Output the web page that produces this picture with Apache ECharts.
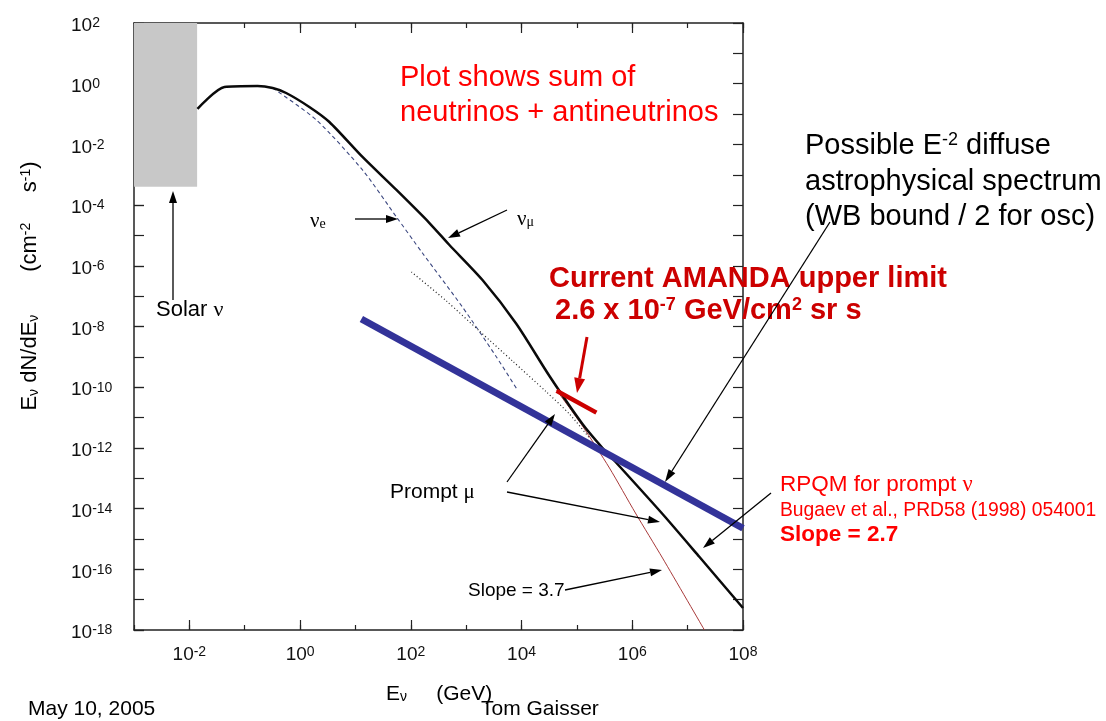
<!DOCTYPE html>
<html>
<head>
<meta charset="utf-8">
<script src="https://cdn.jsdelivr.net/npm/echarts@6/dist/echarts.min.js"></script>
<style>
  html, body { margin: 0; padding: 0; background: #fff; }
  #chart { width: 1106px; height: 721px; }
</style>
</head>
<body>
<div id="chart"></div>
<script>
// Neutrino energy E (GeV) and flux E dN/dE (cm^-2 s^-1), sum of nu + anti-nu
const numuE    = [0.014, 0.043, 0.17, 0.32, 0.56, 1.47, 3.38, 13.4, 55, 217, 498, 1970, 8090, 31900, 1.26e5, 2.9e5, 5.19e5, 3.52e6, 1.64e7, 1e8];
const numuFlux = [0.147, 0.778, 0.84, 0.72, 0.494, 0.171, 0.0547, 3.85e-3, 3.15e-4, 2.57e-5, 4.84e-6, 3.40e-7, 1.21e-8, 2.34e-10, 6.14e-12, 9.93e-13, 3.18e-13, 6.64e-15, 2.54e-16, 5.3e-18];

const nueE    = [0.32, 1.97, 13.4, 55, 162, 855, 3520, 8430];
const nueFlux = [0.72, 0.0637, 1.44e-3, 4.06e-5, 2.64e-6, 4.39e-8, 9.9e-10, 8.1e-11];

const promptMuE    = [102.6, 440, 1730, 6850, 28200, 73300, 1.69e5];
const promptMuFlux = [6.25e-7, 6.92e-8, 7.11e-9, 7.30e-10, 6.95e-11, 1.31e-11, 2.12e-12];

// Conventional component steepening to slope 3.7
const steepE    = [42700, 1.26e5, 3.87e5, 1.14e6, 3.52e6, 2.01e7];
const steepFlux = [8.1e-11, 5.27e-12, 2.18e-13, 7.16e-15, 2.35e-16, 1e-18];

// E^-2 diffuse astrophysical spectrum (WB bound / 2)
const wbE    = [12.8, 1e8];
const wbFlux = [1.76e-8, 2.25e-15];

// AMANDA upper limit on E^2 dN/dE (GeV cm^-2 sr^-1 s^-1), integrated over 4 pi sr
const amandaLimit = 2.6e-7;
const amandaE = [4.3e4, 2.25e5];
const amandaFlux = amandaE.map(e => amandaLimit * 4 * Math.PI / e);

// Solar neutrino band: energy range and flux range
const solarE    = [1e-3, 0.0138];
const solarFlux = [4e-4, 1e2];

// Tick labels (powers of ten)
const xLabelExp = [-2, 0, 2, 4, 6, 8];
const yLabelExp = [2, 0, -2, -4, -6, -8, -10, -12, -14, -16, -18];

const zip = (a, b) => a.map((v, i) => [v, b[i]]);

const FONT = "'Liberation Sans', Arial, Helvetica, sans-serif";
const SERIF = "'Liberation Serif', 'DejaVu Serif', serif";
const AXIS_COLOR = '#222';

const powRich = {
  b: { fontSize: 19, fontFamily: FONT, color: '#111', lineHeight: 19, verticalAlign: 'bottom' },
  s: { fontSize: 14, fontFamily: FONT, color: '#111', lineHeight: 14, verticalAlign: 'top', padding: [0, 0, 13, 0] }
};
const powLabel = e => '{b|10}{s|' + e + '}';

function logAxis(pos, isX, tickLen) {
  return {
    type: 'log', logBase: 10, position: pos,
    min: isX ? 1e-3 : 1e-18, max: isX ? 1e8 : 1e2, interval: 1,
    axisLine: { show: true, onZero: false, lineStyle: { color: AXIS_COLOR, width: 1.5 } },
    axisTick: { show: true, inside: true, length: tickLen, lineStyle: { color: AXIS_COLOR, width: 1.2 } },
    axisLabel: { show: false },
    splitLine: { show: false }
  };
}

function expAxis(pos, isX, showLabel, values) {
  return {
    type: 'value', position: pos,
    min: isX ? -3 : -18, max: isX ? 8 : 2,
    axisLine: { show: false, onZero: false },
    axisTick: { show: true, inside: true, length: 10, customValues: values, lineStyle: { color: AXIS_COLOR, width: 1.2 } },
    axisLabel: showLabel ? Object.assign({
      customValues: values, formatter: powLabel, rich: powRich
    }, isX ? { margin: 15 } : { margin: 63, align: 'left', padding: [6, 0, 0, 0] }) : { show: false },
    splitLine: { show: false }
  };
}

const xAxes = [
  logAxis('bottom', true, 5),
  logAxis('top', true, 5),
  expAxis('bottom', true, true, xLabelExp),
  expAxis('top', true, false, xLabelExp)
];
const yAxes = [
  logAxis('left', false, 10),
  logAxis('right', false, 10),
  expAxis('left', false, true, yLabelExp)
];

function arrow(x1, y1, x2, y2, color, w, headLen, headW) {
  const a = Math.atan2(y2 - y1, x2 - x1);
  const bx = x2 - headLen * Math.cos(a), by = y2 - headLen * Math.sin(a);
  const nx = -Math.sin(a) * headW / 2, ny = Math.cos(a) * headW / 2;
  return [
    { type: 'line', silent: true, z: 100, shape: { x1: x1, y1: y1, x2: bx, y2: by }, style: { stroke: color, lineWidth: w } },
    { type: 'polygon', silent: true, z: 100, shape: { points: [[x2, y2], [bx + nx, by + ny], [bx - nx, by - ny]] }, style: { fill: color } }
  ];
}

function text(x, y, str, opts) {
  return {
    type: 'text', silent: true, z: 100, x: x, y: y,
    rotation: opts.rotation || 0,
    style: Object.assign({
      text: str, fill: '#000', fontSize: 20, fontFamily: FONT,
      textAlign: 'left', textVerticalAlign: 'middle'
    }, opts.style || {})
  };
}

function supRich(size, color, weight, family) {
  const f = family || FONT;
  return {
    n: { fontSize: size, fontFamily: f, fill: color, fontWeight: weight || 'normal', lineHeight: size, verticalAlign: 'bottom' },
    sup: { fontSize: Math.round(size * 0.62), fontFamily: f, fill: color, fontWeight: weight || 'normal', lineHeight: Math.round(size * 0.62), verticalAlign: 'top', padding: [0, 0, Math.round(size * 0.55), 0] },
    sub: { fontSize: Math.round(size * 0.65), fontFamily: f, fill: color, fontWeight: weight || 'normal', lineHeight: Math.round(size * 0.65), verticalAlign: 'bottom', padding: [Math.round(size * 0.45), 0, 0, 0] },
    g: { fontSize: size, fontFamily: SERIF, fill: color, fontWeight: 'normal', lineHeight: size, verticalAlign: 'bottom' }
  };
}

const graphics = [].concat(
  // Red notes
  text(400, 78, 'Plot shows sum of', { style: { fontSize: 29, fill: '#ff0000' } }),
  text(400, 113, 'neutrinos + antineutrinos', { style: { fontSize: 29, fill: '#ff0000' } }),
  // Astrophysical spectrum note
  text(805, 146, '{n|Possible E}{sup|-2}{n| diffuse}', { style: { rich: supRich(29, '#000') } }),
  text(805, 182, 'astrophysical spectrum', { style: { fontSize: 29 } }),
  text(805, 217, '(WB bound / 2 for osc)', { style: { fontSize: 29 } }),
  // AMANDA limit
  text(549, 279, 'Current AMANDA upper limit', { style: { fontSize: 29, fontWeight: 'bold', fill: '#cc0000' } }),
  text(555, 311, '{n|2.6 x 10}{sup|-7}{n| GeV/cm}{sup|2}{n| sr s}', { style: { rich: supRich(29, '#cc0000', 'bold') } }),
  // RPQM note
  text(780, 485, '{n|RPQM for prompt }{g|ν}', { style: { rich: supRich(22.5, '#ff0000') } }),
  text(780, 511, 'Bugaev et al., PRD58 (1998) 054001', { style: { fontSize: 19.3, fill: '#ff0000' } }),
  text(780, 535, 'Slope = 2.7', { style: { fontSize: 22.5, fontWeight: 'bold', fill: '#ff0000' } }),
  // Curve labels
  text(156, 310, '{n|Solar }{g|ν}', { style: { rich: supRich(22, '#000') } }),
  text(310, 221, '{g|ν}{sub|e}', { style: { rich: supRich(21, '#000', 'normal', SERIF) } }),
  text(517, 219, '{g|ν}{sub|μ}', { style: { rich: supRich(21, '#000', 'normal', SERIF) } }),
  text(390, 492, '{n|Prompt }{g|μ}', { style: { rich: supRich(21, '#000') } }),
  text(468, 591, 'Slope = 3.7', { style: { fontSize: 19 } }),
  // Axis titles and footer
  text(386, 694, '{n|E}{sub|ν}{n|     (GeV)}', { style: { rich: supRich(21, '#000') } }),
  {
    type: 'text', silent: true, z: 100, x: 30, y: 286, rotation: Math.PI / 2,
    style: {
      text: '{n|E}{sub|ν}{n| dN/dE}{sub|ν}{n|       (cm}{sup|-2}{n|     s}{sup|-1}{n|)}',
      rich: supRich(22, '#000'), textAlign: 'center', textVerticalAlign: 'middle'
    }
  },
  text(28, 709, 'May 10, 2005', { style: { fontSize: 21 } }),
  text(481, 709, 'Tom Gaisser', { style: { fontSize: 21 } }),
  // Arrows
  arrow(173, 300, 173, 191, '#000', 1.3, 12, 8),
  arrow(355, 219, 398, 219, '#000', 1.3, 12, 8),
  arrow(507, 210, 448, 238, '#000', 1.3, 12, 8),
  arrow(587, 337, 577, 393, '#cc0000', 3, 15, 11),
  arrow(830, 222, 665, 482, '#000', 1.3, 13, 8),
  arrow(507, 482, 555, 414, '#000', 1.3, 12, 8),
  arrow(507, 492, 660, 522, '#000', 1.3, 12, 8),
  arrow(771, 493, 703, 548, '#000', 1.3, 12, 8),
  arrow(565, 590, 662, 570, '#000', 1.3, 12, 8)
);

const curve = (name, xs, ys, z, lineStyle) => ({
  name: name, type: 'line', xAxisIndex: 0, yAxisIndex: 0, z: z, symbol: 'none',
  smooth: 0.25,
  data: zip(xs, ys), lineStyle: lineStyle
});

const chart = echarts.init(document.getElementById('chart'), null, { renderer: 'canvas' });
chart.setOption({
  animation: false,
  backgroundColor: '#fff',
  grid: { left: 134, right: 363, top: 23, bottom: 91, containLabel: false },
  xAxis: xAxes,
  yAxis: yAxes,
  series: [
    {
      name: 'solar', type: 'line', xAxisIndex: 0, yAxisIndex: 0, data: [], z: 1,
      markArea: {
        silent: true,
        itemStyle: { color: '#c8c8c8' },
        data: [[{ coord: [solarE[0], solarFlux[0]] }, { coord: [solarE[1], solarFlux[1]] }]]
      }
    },
    curve('nu_e', nueE, nueFlux, 3, { color: '#3c4880', width: 1.1, type: [4, 3] }),
    curve('prompt mu', promptMuE, promptMuFlux, 3, { color: '#222', width: 1.2, type: [1, 2.5] }),
    curve('slope 3.7', steepE, steepFlux, 3, { color: '#a83a3a', width: 1 }),
    curve('nu_mu', numuE, numuFlux, 4, { color: '#0a0a0a', width: 2.5 }),
    {
      name: 'E^-2', type: 'line', xAxisIndex: 0, yAxisIndex: 0, z: 5, symbol: 'none',
      data: zip(wbE, wbFlux),
      lineStyle: { color: '#333399', width: 7, cap: 'butt' }
    },
    {
      name: 'AMANDA', type: 'line', xAxisIndex: 0, yAxisIndex: 0, z: 6, symbol: 'none',
      data: zip(amandaE, amandaFlux),
      lineStyle: { color: '#cc0000', width: 4.5, cap: 'butt' }
    }
  ],
  graphic: graphics
});
</script>
</body>
</html>
